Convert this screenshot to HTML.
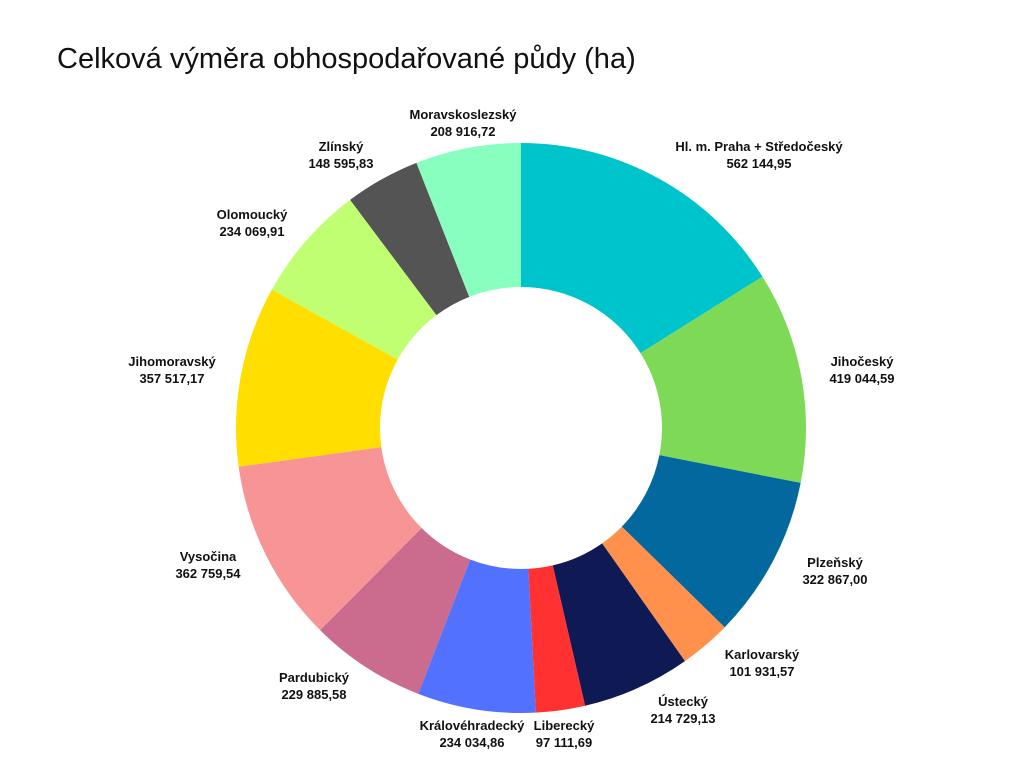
<!DOCTYPE html>
<html><head><meta charset="utf-8"><style>
body{margin:0;background:#fff;width:1024px;height:768px;overflow:hidden;font-family:"Liberation Sans",sans-serif}
</style></head><body>
<svg width="1024" height="768">
<text x="57" y="68" font-size="29" fill="#111">Celková výměra obhospodařované půdy (ha)</text>
<g id="slices"></g><g id="labels"></g>
</svg>
<script>
const categories=["Hl. m. Praha + Středočeský","Jihočeský","Plzeňský","Karlovarský","Ústecký","Liberecký","Královéhradecký","Pardubický","Vysočina","Jihomoravský","Olomoucký","Zlínský","Moravskoslezský"];
const values=[562144.95,419044.59,322867.00,101931.57,214729.13,97111.69,234034.86,229885.58,362759.54,357517.17,234069.91,148595.83,208916.72];
const valueLabels=["562 144,95","419 044,59","322 867,00","101 931,57","214 729,13","97 111,69","234 034,86","229 885,58","362 759,54","357 517,17","234 069,91","148 595,83","208 916,72"];
const colors=["#00C4CC","#7ED957","#03689E","#FF914D","#0F1A55","#FF3131","#5271FF","#CB6B8E","#F79596","#FFDE00","#C1FF72","#545454","#88FFBE"];
const labelPos=[[759,151],[862,366],[835,567],[762,659],[683,706],[564,730],[472,730],[314,682],[208,561],[172,366],[252,219],[341,151],[463,119]];
const cx=521,cy=428,R=285,r=141;
const total=values.reduce((a,b)=>a+b,0);
const ns="http://www.w3.org/2000/svg";
const gs=document.getElementById('slices'),gl=document.getElementById('labels');
function pt(a,rad){return [cx+rad*Math.sin(a),cy-rad*Math.cos(a)];}
let acc=0;
values.forEach((v,i)=>{
 const a0=acc/total*2*Math.PI;acc+=v;const a1=acc/total*2*Math.PI;
 const large=(a1-a0)>Math.PI?1:0;
 const p0=pt(a0,R),p1=pt(a1,R),q1=pt(a1,r),q0=pt(a0,r);
 const p=document.createElementNS(ns,'path');
 p.setAttribute('d',`M${p0}A${R},${R} 0 ${large} 1 ${p1}L${q1}A${r},${r} 0 ${large} 0 ${q0}Z`);
 p.setAttribute('fill',colors[i]);
 
 
 gs.appendChild(p);
 const t=document.createElementNS(ns,'text');
 t.setAttribute('x',labelPos[i][0]);t.setAttribute('y',labelPos[i][1]);
 t.setAttribute('text-anchor','middle');t.setAttribute('font-size','13');t.setAttribute('font-weight','bold');t.setAttribute('fill','#111');
 
 
 const s1=document.createElementNS(ns,'tspan');s1.setAttribute('x',labelPos[i][0]);s1.textContent=categories[i];
 const s2=document.createElementNS(ns,'tspan');s2.setAttribute('x',labelPos[i][0]);s2.setAttribute('dy','17');s2.textContent=valueLabels[i];
 t.appendChild(s1);t.appendChild(s2);gl.appendChild(t);
});
</script>
</body></html>
